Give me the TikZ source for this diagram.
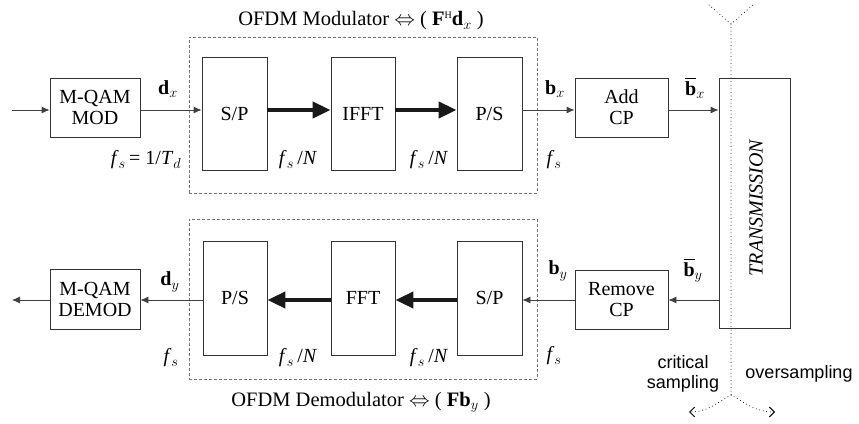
\documentclass[tikz,border=0pt]{standalone}
\usepackage{fontspec}
\setmainfont{Liberation Serif}
\setsansfont{Liberation Sans}
\usetikzlibrary{arrows.meta}
\newcommand{\fsN}{\textit{f}$_s$\,/\textit{N}}
\newcommand{\fsonly}{\textit{f}$_s$}
\newcommand{\bbarbold}{\leavevmode\rlap{\raisebox{0.84em}{\rule{0.56em}{0.75pt}}}\textbf{b}}
\begin{document}
\begin{tikzpicture}[x=1pt,y=-1pt,
  blk/.style={draw=black!80, line width=0.8pt, inner sep=0pt, align=center, font=\fontsize{20}{21}\selectfont},
  dbox/.style={draw=black!55, line width=0.8pt, dash pattern=on 3pt off 2pt, inner sep=0pt},
  lbl/.style={inner sep=0pt, font=\fontsize{20}{21}\selectfont},
  thinarr/.style={draw=black!75, line width=0.8pt, -{Latex[length=8pt,width=7pt]}},
  thickarr/.style={draw=black!90, line width=4pt, -{Triangle[length=18pt,width=16pt]}},
  dots/.style={draw=black, line width=1pt, line cap=round, dash pattern=on 0pt off 3.6pt},
]
\useasboundingbox (0,0) rectangle (859,423);
\coordinate (r1) at (0,110);
\coordinate (r2) at (0,300);
% dashed boxes
\node[dbox, minimum width=348pt, minimum height=156pt] (modbox) at (363,115) {};
\node[dbox, minimum width=348pt, minimum height=160pt] (demodbox) at (363,299) {};
\node[lbl, font=\fontsize{20.5}{22}\selectfont] (modtitle) at (361,21) {OFDM Modulator $\Leftrightarrow$ ( \textbf{F}\raisebox{0.75ex}{\fontsize{10}{10}\selectfont H}\textbf{d}$_x$ )};
\node[lbl, font=\fontsize{20.5}{22}\selectfont] (demodtitle) at (361,402) {OFDM Demodulator $\Leftrightarrow$ ( \textbf{Fb}$_y$ )};
% top row
\coordinate (in) at (12,110);
\node[blk, minimum width=90pt, minimum height=59pt] (mod) at (95,107.5) {M-QAM\\MOD};
\node[blk, minimum width=65pt, minimum height=113pt] (sp1) at (234.5,113.5) {S/P};
\node[blk, minimum width=64pt, minimum height=113pt] (ifft) at (363,113.5) {IFFT};
\node[blk, minimum width=65pt, minimum height=113pt] (ps1) at (489.5,113.5) {P/S};
\node[blk, minimum width=93pt, minimum height=59pt] (addcp) at (621.5,107.5) {Add\\CP};
\node[blk, minimum width=71pt, minimum height=250pt] (trans) at (754.5,203) {};
\node[lbl, rotate=90, font=\fontsize{20}{21}\selectfont\itshape] (transtxt) at (756,208) {TRANSMISSION};
% bottom row
\coordinate (out) at (12,300);
\node[blk, minimum width=90pt, minimum height=60pt] (demod) at (95,299) {M-QAM\\DEMOD};
\node[blk, minimum width=64pt, minimum height=114pt] (ps2) at (235,298) {P/S};
\node[blk, minimum width=64pt, minimum height=114pt] (fft) at (363,298) {FFT};
\node[blk, minimum width=65pt, minimum height=114pt] (sp2) at (489.5,298) {S/P};
\node[blk, minimum width=93pt, minimum height=59pt] (rmcp) at (621.5,299.5) {Remove\\CP};
% connectors top
\draw[thinarr] (in) -- (mod.west |- r1);
\draw[thinarr] (mod.east |- r1) -- (sp1.west |- r1);
\draw[thickarr] (sp1.east |- r1) -- (ifft.west |- r1);
\draw[thickarr] (ifft.east |- r1) -- (ps1.west |- r1);
\draw[thinarr] (ps1.east |- r1) -- (addcp.west |- r1);
\draw[thinarr] (addcp.east |- r1) -- (trans.west |- r1);
% connectors bottom
\draw[thinarr] (trans.west |- r2) -- (rmcp.east |- r2);
\draw[thinarr] (rmcp.west |- r2) -- (sp2.east |- r2);
\draw[thickarr] (sp2.west |- r2) -- (fft.east |- r2);
\draw[thickarr] (fft.west |- r2) -- (ps2.east |- r2);
\draw[thinarr] (ps2.west |- r2) -- (demod.east |- r2);
\draw[thinarr] (demod.west |- r2) -- (out);
% labels top
\node[lbl] (dx) at (168,89) {\textbf{d}$_x$};
\node[lbl] (fs1) at (146,160) {\textit{f}$_s$\,= 1/\textit{T}$_d$};
\node[lbl] (fsn1) at (298,160) {\fsN};
\node[lbl] (fsn2) at (429,160) {\fsN};
\node[lbl] (fs2) at (554,160) {\fsonly};
\node[lbl] (bx) at (555,89) {\textbf{b}$_x$};
\node[lbl] (bbx) at (695,88) {\bbarbold$_x$};
% labels bottom
\node[lbl] (dy) at (170,282) {\textbf{d}$_y$};
\node[lbl] (fs3) at (171,358) {\fsonly};
\node[lbl] (fsn3) at (298,358) {\fsN};
\node[lbl] (fsn4) at (429,358) {\fsN};
\node[lbl] (fs4) at (554,356) {\fsonly};
\node[lbl] (by) at (558,271) {\textbf{b}$_y$};
\node[lbl] (bby) at (693,271) {\bbarbold$_y$};
% sampling
\node[inner sep=0pt, align=center, font=\sffamily\fontsize{18}{20}\selectfont] (crit) at (683,374) {critical\\sampling};
\node[inner sep=0pt, font=\sffamily\fontsize{18}{20}\selectfont] (over) at (799,374) {oversampling};
% antenna / dotted line
\coordinate (yt) at (731,24);
\coordinate (yl) at (709,5);
\coordinate (yr) at (753,5);
\coordinate (yb) at (731,395);
\coordinate (al) at (689,412);
\coordinate (ar) at (775,412);
\draw[dots] (yl) -- (yt) -- (yr);
\draw[dots] (yt) -- (yb);
\draw[dots, -{Straight Barb[length=5pt,width=10pt,line cap=butt]}] (yb) to[out=-150,in=0] (al);
\draw[dots, -{Straight Barb[length=5pt,width=10pt,line cap=butt]}] (yb) to[out=-30,in=180] (ar);
\end{tikzpicture}
\end{document}
